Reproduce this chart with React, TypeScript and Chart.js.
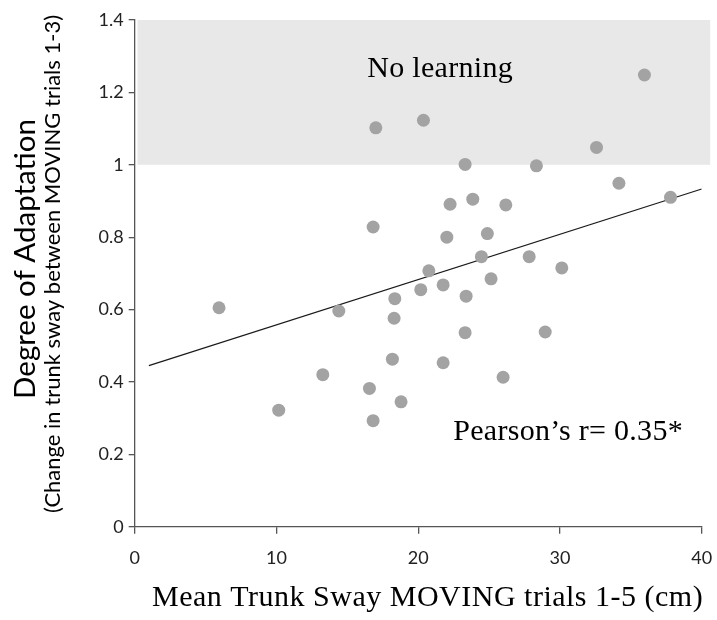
import React, { useEffect, useRef } from "react";
import { Chart, registerables } from "chart.js";

Chart.register(...registerables);

// Data: mean trunk sway (cm) vs degree of adaptation
const swayX = [
  5.95, 10.16, 13.27, 14.4, 16.56, 16.82, 16.82, 17.01, 18.35, 18.3, 18.18, 18.79,
  20.37, 20.18, 20.75, 21.76, 21.76, 22.02, 22.25, 23.31, 23.38, 23.31, 23.85, 24.46,
  24.88, 25.14, 25.99, 26.18, 27.83, 28.34, 28.96, 30.13, 32.58, 34.16, 35.96, 37.8,
];
const adaptY = [
  0.605, 0.322, 0.42, 0.596, 0.382, 0.293, 0.828, 1.102, 0.63, 0.576, 0.463, 0.345,
  1.123, 0.655, 0.707, 0.453, 0.668, 0.8, 0.891, 1.001, 0.637, 0.536, 0.905, 0.746,
  0.81, 0.685, 0.413, 0.889, 0.746, 0.997, 0.538, 0.715, 1.048, 0.949, 1.248, 0.91,
];
const trendX = [1, 40];
const trendY = [0.445, 0.933];

const xTicks = [0, 10, 20, 30, 40];
const yTicks = [0, 0.2, 0.4, 0.6, 0.8, 1, 1.2, 1.4];

const bandX = [0.2, 40.6];
const bandY = [1.0, 1.4];

const xTitle = "Mean Trunk Sway MOVING trials 1-5 (cm)";
const yTitle1 = "Degree of Adaptation";
const yTitle2 = "(Change in trunk sway between MOVING trials 1-3)";
const bandLabel = "No learning";
const bandLabelPos = [21.55, 1.242];
const corrLabel = "Pearson\u2019s r= 0.35*";
const corrLabelPos = [22.47, 0.2395];

const W = 717;
const H = 620;

const bandPlugin = {
  id: "band",
  beforeDatasetsDraw(chart: any) {
    const { ctx, scales } = chart;
    const x = scales.x, y = scales.y;
    const l = x.getPixelForValue(bandX[0]);
    const r = x.getPixelForValue(bandX[1]);
    const t = y.getPixelForValue(bandY[1]);
    const b = y.getPixelForValue(bandY[0]);
    ctx.save();
    ctx.fillStyle = "#e8e8e8";
    ctx.fillRect(l, t, r - l, b - t);
    ctx.restore();
  },
};

const textPlugin = {
  id: "texts",
  afterDraw(chart: any) {
    const { ctx, scales } = chart;
    const x = scales.x, y = scales.y;
    ctx.save();
    ctx.fillStyle = "#000";
    ctx.textBaseline = "alphabetic";
    // annotations
    ctx.font = "30px 'Liberation Serif'";
    (ctx as any).letterSpacing = "0.3px";
    ctx.textAlign = "center";
    ctx.fillText(bandLabel, x.getPixelForValue(bandLabelPos[0]), y.getPixelForValue(bandLabelPos[1]));
    ctx.textAlign = "left";
    ctx.fillText(corrLabel, x.getPixelForValue(corrLabelPos[0]), y.getPixelForValue(corrLabelPos[1]));
    // x title
    ctx.font = "30px 'Liberation Serif'";
    (ctx as any).letterSpacing = "0.5px";
    ctx.textAlign = "left";
    ctx.fillText(xTitle, 152, 606);
    (ctx as any).letterSpacing = "0px";
    // y titles
    ctx.textAlign = "center";
    ctx.save();
    ctx.translate(35, 259);
    ctx.rotate(-Math.PI / 2);
    ctx.font = "29.5px Lato";
    ctx.fillText(yTitle1, 0, 0);
    ctx.restore();
    ctx.save();
    ctx.translate(60, 264);
    ctx.rotate(-Math.PI / 2);
    ctx.font = "22px Lato";
    ctx.fillText(yTitle2, 0, 0);
    ctx.restore();
    ctx.restore();
  },
};

const fmt = (v: any) => String(Math.round(Number(v) * 10) / 10);

export default function App() {
  const ref = useRef<HTMLCanvasElement | null>(null);
  useEffect(() => {
    if (!ref.current) return;
    const chart = new Chart(ref.current, {
      type: "scatter",
      data: {
        datasets: [
          {
            type: "line",
            data: trendX.map((v, i) => ({ x: v, y: trendY[i] })),
            borderColor: "#1a1a1a",
            borderWidth: 1.2,
            pointRadius: 0,
            fill: false,
            order: 2,
          } as any,
          {
            type: "scatter",
            data: swayX.map((v, i) => ({ x: v, y: adaptY[i] })),
            backgroundColor: "#a3a3a3",
            borderWidth: 0,
            pointRadius: 6.5,
            order: 1,
          },
        ],
      },
      options: {
        responsive: false,
        animation: false,
        layout: { padding: { top: 20, right: 15.3, left: 0, bottom: 0 } },
        plugins: { legend: { display: false }, tooltip: { enabled: false } },
        scales: {
          x: {
            type: "linear",
            min: 0,
            max: 40,
            afterBuildTicks: (s: any) => {
              s.ticks = xTicks.map((v) => ({ value: v }));
            },
            afterFit: (s: any) => {
              s.height = H - 526.7;
              s.paddingLeft = 0;
              s.paddingRight = 0;
            },
            border: { display: true, color: "#555", width: 1.3 },
            grid: { display: true, drawOnChartArea: false, drawTicks: true, tickLength: 7, color: "#555", lineWidth: 1.3 },
            ticks: { color: "#222", font: { family: "Lato", size: 18 }, padding: 14, maxRotation: 0, callback: fmt },
          },
          y: {
            type: "linear",
            min: 0,
            max: 1.4,
            afterBuildTicks: (s: any) => {
              s.ticks = yTicks.map((v) => ({ value: v }));
            },
            afterFit: (s: any) => {
              s.width = 134.7;
              s.paddingTop = 0;
              s.paddingBottom = 0;
            },
            border: { display: true, color: "#555", width: 1.3 },
            grid: { display: true, drawOnChartArea: false, drawTicks: true, tickLength: 6, color: "#555", lineWidth: 1.3 },
            ticks: { color: "#222", font: { family: "Lato", size: 18 }, padding: 5, callback: fmt },
          },
        },
      },
      plugins: [bandPlugin, textPlugin],
    });
    return () => chart.destroy();
  }, []);
  return (
    <div style={{ position: "absolute", left: 0, top: 0, width: W, height: H, background: "#fff" }}>
      <canvas ref={ref} width={W} height={H} style={{ display: "block" }} />
    </div>
  );
}
